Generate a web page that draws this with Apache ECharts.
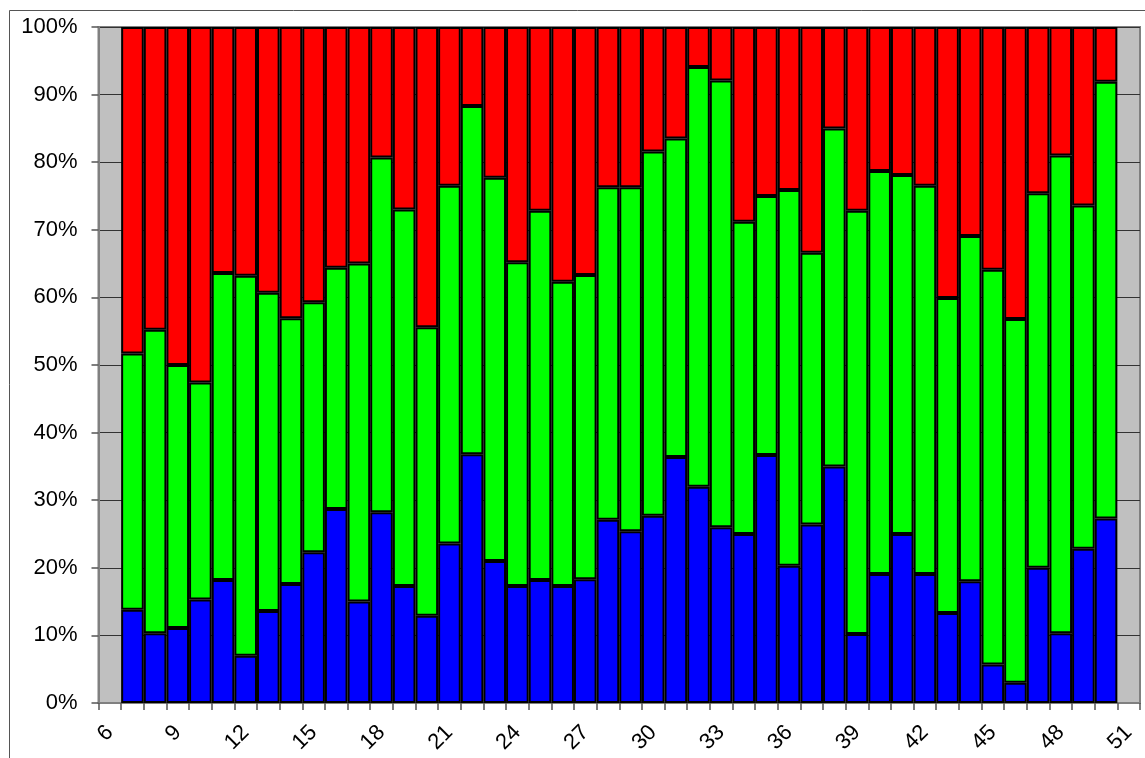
<!DOCTYPE html>
<html>
<head>
<meta charset="utf-8">
<script src="https://cdn.jsdelivr.net/npm/echarts@6/dist/echarts.min.js"></script>
<style>html,body{margin:0;padding:0;background:#fff}#c{width:1145px;height:758px}</style>
</head>
<body>
<div id="c"></div>
<script>
var categories = ['6','7','8','9','10','11','12','13','14','15','16','17','18','19','20','21','22','23','24','25','26','27','28','29','30','31','32','33','34','35','36','37','38','39','40','41','42','43','44','45','46','47','48','49','50','51'];
var blueValues = ['-',13.8,10.3,11.1,15.3,18.2,7.0,13.6,17.6,22.3,28.7,15.0,28.2,17.3,12.9,23.6,36.8,21.0,17.3,18.2,17.3,18.3,27.1,25.4,27.7,36.4,32.0,26.0,25.0,36.7,20.3,26.4,35.0,10.2,19.1,25.0,19.1,13.3,18.0,5.7,3.0,20.0,10.3,22.8,27.3,'-'];
var greenValues = ['-',37.9,44.9,38.9,32.1,45.4,56.2,47.1,39.3,37.0,35.7,50.0,52.5,55.7,42.7,52.9,51.5,56.7,47.9,54.6,45.0,45.0,49.2,50.9,53.9,47.1,62.1,66.1,46.2,38.3,55.6,40.2,50.0,62.6,59.6,53.1,57.4,46.6,51.1,58.4,53.8,55.4,70.7,50.8,64.6,'-'];
var redValues = ['-',48.3,44.8,50.0,52.6,36.4,36.8,39.3,43.1,40.7,35.6,35.0,19.3,27.0,44.4,23.5,11.7,22.3,34.8,27.2,37.7,36.7,23.7,23.7,18.4,16.5,5.9,7.9,28.8,25.0,24.1,33.4,15.0,27.2,21.3,21.9,23.5,40.1,30.9,35.9,43.2,24.6,19.0,26.4,8.1,'-'];
var yTicks = [0,10,20,30,40,50,60,70,80,90,100];

var chart = echarts.init(document.getElementById('c'), null, {renderer:'canvas'});
var font = "'Liberation Sans', Arial, sans-serif";
function barSeries(name, data, color){
  return {
    name: name, type: 'bar', stack: 'total', data: data,
    barCategoryGap: '0%', barGap: '0%',
    itemStyle: {color: color, borderColor: '#000', borderWidth: 2},
    emphasis: {disabled: true},
    animation: false
  };
}
chart.setOption({
  animation: false,
  backgroundColor: '#fff',
  graphic: [{
    type: 'rect', silent: true, z: -10,
    shape: {x: 9.5, y: 10.5, width: 1300, height: 900},
    style: {fill: 'none', stroke: '#555', lineWidth: 1}
  }],
  grid: {
    left: 98.5, right: 5, top: 27, bottom: 55,
    containLabel: false, outerBoundsMode: 'none',
    show: true, backgroundColor: '#C0C0C0', borderColor: '#808080', borderWidth: 2
  },
  xAxis: {
    type: 'category', data: categories, boundaryGap: true,
    axisLine: {show: true, lineStyle: {color: '#808080', width: 2}},
    axisTick: {show: true, interval: 0, length: 7, alignWithLabel: false, lineStyle: {color: '#555', width: 1.5}},
    axisLabel: {interval: 2, rotate: 45, margin: 26, color: '#000', fontSize: 22, fontFamily: font},
    splitLine: {show: false}
  },
  yAxis: {
    type: 'value', min: 0, max: 100, interval: 10,
    axisLine: {show: true, lineStyle: {color: '#808080', width: 2}},
    axisTick: {show: true, length: 7, lineStyle: {color: '#555', width: 1.5}},
    axisLabel: {margin: 21, color: '#000', fontSize: 22, fontFamily: font,
      formatter: function(v){ return yTicks.indexOf(v) >= 0 ? v + '%' : ''; }},
    splitLine: {show: true, lineStyle: {color: '#333', width: 1}}
  },
  series: [
    barSeries('Blue', blueValues, '#0000FF'),
    barSeries('Green', greenValues, '#00FF00'),
    barSeries('Red', redValues, '#FF0000')
  ]
});
</script>
</body>
</html>
